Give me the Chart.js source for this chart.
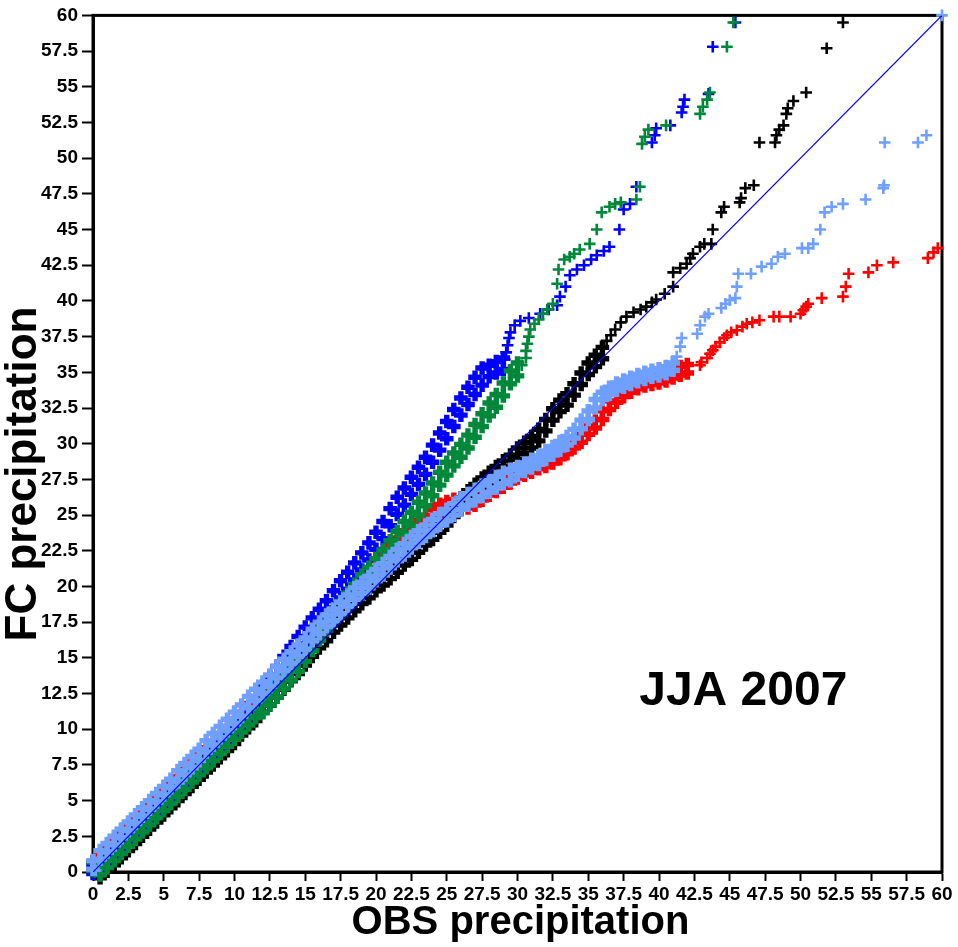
<!DOCTYPE html>
<html>
<head>
<meta charset="utf-8">
<script src="https://cdn.jsdelivr.net/npm/chart.js@4.4.1/dist/chart.umd.min.js"></script>
<style>
  html, body { margin: 0; padding: 0; background: #ffffff; }
  #chart_qq { display: block; }
</style>
</head>
<body>
<canvas id="chart_qq" width="958" height="947"></canvas>
<script>
// quantiles: [OBS, FC] for single crosses,
// [OBS, FC low, FC high] where crosses stack up into a thick band
const diagonal = [[0, 0], [60, 60]];

const lightBlue = [
  [0.2,0.1],
  [0,0.2,0.8],[0.5,0.9,1.5],[1,1.4,2.0],[1.5,1.9,2.5],[2,2.4,3.0],[2.5,2.9,3.5],[3,3.4,4.0],[3.5,3.9,4.5],[4,4.4,5.0],[4.5,4.9,5.5],
  [5,5.4,6.0],[5.5,5.9,6.5],[6,6.3,7.1],[6.5,6.8,7.6],[7,7.3,8.1],[7.5,7.8,8.6],[8,8.4,9.2],[8.5,8.9,9.7],[9,9.4,10.2],[9.5,9.9,10.7],
  [10,10.4,11.2],[10.5,10.9,11.7],[11,11.5,12.3],[11.5,12.0,12.8],[12,12.5,13.3],[12.5,13.0,13.8],[13,13.6,14.4],[13.5,14.1,14.9],[14,14.6,15.4],[14.5,15.1,15.9],
  [15,15.6,16.4],[15.5,16.2,17.0],[16,16.7,17.5],[16.5,17.2,18.0],[17,17.6,18.4],[17.5,18.1,18.9],[18,18.6,19.4],[18.5,19.1,19.9],[19,19.5,20.3],[19.5,19.9,20.7],
  [20,20.4,21.2],[20.5,20.8,21.6],[21,21.3,22.1],[21.5,21.8,22.6],[22,22.2,23.0],[22.5,22.7,23.5],[23,23.1,23.9],[23.5,23.5,24.3],[24,23.9,24.7],[24.5,24.3,25.1],
  [25,24.6,25.4],[25.5,25.0,25.8],[26,25.4,26.2],[26.5,25.7,26.5],[27,26.0,26.8],[27.5,26.3,27.1],[28,26.6,27.4],[28.5,26.9,27.7],[29,27.2,28.0],[29.5,27.4,28.2],
  [30,27.8,28.4],[30.5,28.05,28.65],[31,28.3,28.9],[31.5,28.55,29.15],[32,28.9,29.5],[32.5,29.2,29.8],[33,29.55,30.15],[33.5,29.9,30.5],[34,30.4,31.0],[34.5,31.05,31.65],
  [35,31.7,32.3],[35.5,32.5,33.1],[36,33.1,33.6],[36.5,33.45,33.95],[37,33.75,34.25],[37.5,33.95,34.45],[38,34.15,34.65],[38.5,34.35,34.85],[39,34.5,35.0],[39.5,34.65,35.15],
  [40,34.75,35.25],[40.5,34.9,35.4],[41,35.15,35.65],
  [41.25,36.1],[41.5,36.8],[41.6,37.4],[42.7,37.7],[42.9,38.3],[43.25,38.9],[43.5,39.1],[44.4,39.5],[44.7,39.8],[45.0,40.05],
  [45.4,40.2],[45.5,41.0],[45.6,41.9],[46.5,41.9],[47.25,42.4],[47.95,42.6],[48.4,43.1],[48.9,43.3],[50.1,43.7],[50.55,43.7],
  [50.9,44.0],[51.4,45.0],[51.7,46.2],[52.2,46.6],[53.0,46.8],[54.6,47.1],[55.85,47.9],[55.9,48.1],[55.95,51.1],[58.3,51.1],
  [58.9,51.6],[60.0,60.0]
];

const green = [
  [0,0.1,0.7],[0.5,-0.2,0.4],[1,0.3,0.9],[1.5,0.8,1.4],[2,1.3,1.9],[2.5,1.8,2.4],[3,2.3,2.9],[3.5,2.8,3.4],[4,3.3,3.9],[4.5,3.8,4.4],
  [5,4.3,4.9],[5.5,4.8,5.4],[6,5.3,5.9],[6.5,5.8,6.4],[7,6.3,6.9],[7.5,6.8,7.4],[8,7.3,7.9],[8.5,7.8,8.4],[9,8.3,8.9],[9.5,8.8,9.4],
  [10,9.3,9.9],[10.5,9.8,10.4],[11,10.3,10.9],[11.5,10.8,11.4],[12,11.15,12.05],[12.5,11.7,12.6],[13,12.25,13.15],[13.5,12.85,13.75],[14,13.45,14.35],[14.5,14.05,14.95],
  [15,14.75,15.65],[15.5,15.5,16.4],[16,16.25,17.15],[16.5,16.95,17.85],[17,17.55,18.45],[17.5,18.05,18.95],[18,18.65,19.55],[18.5,19.25,20.15],[19,19.9,20.8],[19.5,20.45,21.35],
  [20,21.05,21.95],[20.5,21.65,22.55],[21,22.3,23.2],[21.5,22.95,23.85],[22,23.65,24.55],[22.5,24.3,25.2],[23,25.0,25.9],[23.5,25.65,26.55],[24,26.35,27.25],[24.5,27.1,28.0],
  [25,27.8,28.7],[25.5,28.45,29.35],[26,29.05,29.95],[26.5,29.7,30.6],[27,30.45,31.35],[27.5,31.2,32.1],[28,31.95,32.85],[28.5,32.55,33.45],[29,33.35,34.25],[29.5,34.2,35.1],
  [30,34.75,35.65],
  [30.3,35.5],[30.6,36.0],[30.6,36.5],[30.7,37.0],[30.8,37.5],[30.9,38.0],[31.2,38.4],[31.5,38.7],[31.8,39.1],[32.1,39.4],
  [32.5,39.8],[32.8,41.2],[32.9,42.2],[33.3,42.9],[33.7,43.1],[34.0,43.3],[34.4,43.6],[35.1,44.0],[35.6,45.0],[35.95,46.2],
  [36.5,46.6],[36.9,46.8],[37.3,46.9],[38.4,47.1],[38.65,48.0],[38.8,51.0],[39.0,51.5],[39.25,52.0],[40.5,52.3],[42.9,53.1],
  [43.1,53.6],[43.4,54.1],[43.6,54.6],[44.8,57.8],[45.25,59.5]
];

const blue = [
  [0,-0.1,0.5],[0.5,0.2,0.8],[1,0.55,1.15],[1.5,1.0,1.6],[2,1.5,2.1],[2.5,2.0,2.6],[3,2.5,3.1],[3.5,3.0,3.6],[4,3.5,4.1],[4.5,4.0,4.6],
  [5,4.5,5.1],[5.5,5.0,5.6],[6,5.5,6.1],[6.5,6.0,6.6],[7,6.5,7.1],[7.5,7.0,7.6],[8,7.5,8.1],[8.5,8.0,8.6],[9,8.5,9.1],[9.5,9.1,9.7],
  [10,9.6,10.2],[10.5,10.1,10.7],[11,10.75,11.35],[11.5,11.4,12.0],[12,11.8,13.0],[12.5,12.5,13.7],[13,13.2,14.4],[13.5,13.9,15.1],[14,14.6,15.8],[14.5,15.3,16.5],
  [15,15.95,17.15],[15.5,16.6,17.8],[16,17.2,18.4],[16.5,17.8,19.0],[17,18.5,19.7],[17.5,19.2,20.4],[18,19.8,21.0],[18.5,20.45,21.65],[19,21.15,22.35],[19.5,21.85,23.05],
  [20,22.6,23.8],[20.5,23.35,24.55],[21,24.25,25.45],[21.5,25.05,26.25],[22,25.7,26.9],[22.5,26.45,27.65],[23,27.15,28.35],[23.5,27.85,29.05],[24,28.7,29.9],[24.5,29.55,30.75],
  [25,30.35,31.55],[25.5,31.2,32.4],[26,32.0,33.2],[26.5,32.75,33.95],[27,33.45,34.65],[27.5,34.1,35.3],[28,34.7,35.5],[28.5,34.95,35.75],[29,35.2,36.0],
  [29.1,35.9],[29.2,36.4],[29.3,36.9],[29.4,37.4],[29.5,37.8],[29.8,38.3],[30.2,38.6],[30.8,38.8],[31.6,39.1],[32.2,39.4],
  [32.8,39.7],[33.0,40.3],[33.4,41.0],[33.7,41.8],[34.2,42.2],[34.7,42.5],[35.2,42.9],[35.6,43.2],[36.1,43.5],[36.5,43.8],
  [37.2,45.0],[37.5,46.4],[37.95,46.8],[38.4,48.0],[39.5,51.1],[39.7,51.6],[39.8,52.1],[40.8,52.3],[41.6,53.2],[41.7,53.6],
  [41.8,54.1],[43.5,54.5],[43.8,57.8],[45.4,59.5]
];

const black = [
  [0.3,0.0],
  [0.5,-0.4,0.2],[1,0.05,0.65],[1.5,0.5,1.1],[2,1.0,1.6],[2.5,1.5,2.1],[3,2.0,2.6],[3.5,2.5,3.1],[4,3.0,3.6],[4.5,3.5,4.1],[5,4.0,4.6],
  [5.5,4.5,5.1],[6,5.0,5.6],[6.5,5.5,6.1],[7,6.0,6.6],[7.5,6.5,7.1],[8,7.0,7.6],[8.5,7.5,8.1],[9,8.0,8.6],[9.5,8.5,9.1],[10,9.0,9.6],
  [10.5,9.6,10.2],[11,10.1,10.7],[11.5,10.6,11.2],[12,11.2,11.8],[12.5,11.7,12.3],[13,12.25,12.85],[13.5,12.8,13.4],[14,13.4,14.0],[14.5,13.9,14.5],[15,14.5,15.1],
  [15.5,15.1,15.7],[16,15.7,16.3],[16.5,16.2,16.8],[17,16.8,17.4],[17.5,17.3,17.9],[18,17.8,18.4],[18.5,18.3,18.9],[19,18.8,19.4],[19.5,19.2,19.8],[20,19.7,20.3],
  [20.5,20.1,20.7],[21,20.55,21.15],[21.5,21.0,21.6],[22,21.5,22.1],[22.5,21.9,22.5],[23,22.4,23.0],[23.5,22.9,23.5],[24,23.3,24.1],[24.5,23.8,24.6],[25,24.3,25.1],
  [25.5,24.9,25.7],[26,25.4,26.2],[26.5,25.9,26.7],[27,26.35,27.15],[27.5,26.8,27.6],[28,27.2,28.0],[28.5,27.6,28.4],[29,28.0,28.8],[29.5,28.4,29.2],[30,28.9,29.7],
  [30.5,29.3,30.1],[31,29.7,30.5],[31.5,30.2,31.0],[32,30.9,31.7],[32.5,31.65,32.45],[33,32.25,33.05],[33.5,32.7,33.5],[34,33.4,34.2],[34.5,34.15,34.95],[35,34.85,35.65],
  [35.5,35.4,36.2],[36,35.95,36.75],
  [36.3,37.2],[36.6,37.6],[36.9,38.0],[37.3,38.5],[37.7,38.9],[38.2,39.2],[38.7,39.4],[39.1,39.6],[39.5,39.9],[39.8,40.1],
  [40.4,40.5],[41.0,41.0],[41.0,42.0],[41.5,42.3],[41.95,42.6],[42.2,43.0],[42.4,43.3],[42.9,43.8],[43.2,44.0],[43.7,44.0],
  [43.8,45.0],[44.4,46.2],[44.6,46.6],[45.7,46.9],[45.8,47.2],[46.1,47.9],[46.7,48.1],[47.1,51.1],[48.2,51.1],[48.3,51.6],
  [48.5,52.0],[48.8,52.3],[49.0,53.1],[49.1,53.5],[49.5,54.0],[50.4,54.6],[51.85,57.7],[53.0,59.5]
];

const red = [
  [0,0.1,0.7],[0.5,0.6,1.2],[1,1.1,1.7],[1.5,1.6,2.2],[2,2.1,2.7],[2.5,2.6,3.2],[3,3.1,3.7],[3.5,3.6,4.2],[4,4.1,4.7],[4.5,4.6,5.2],
  [5,5.1,5.7],[5.5,5.6,6.2],[6,6.1,6.7],[6.5,6.6,7.2],[7,7.1,7.7],[7.5,7.6,8.2],[8,8.1,8.7],[8.5,8.6,9.2],[9,9.1,9.7],[9.5,9.6,10.2],
  [10,10.1,10.7],[10.5,10.6,11.2],[11,11.2,11.8],[11.5,11.7,12.3],[12,12.2,12.8],[12.5,12.7,13.3],[13,13.2,13.8],[13.5,13.7,14.3],[14,14.3,14.9],[14.5,14.8,15.4],
  [15,15.35,15.95],[15.5,15.9,16.5],[16,16.5,17.1],[16.5,17.0,17.6],[17,17.6,18.2],[17.5,18.2,18.8],[18,18.8,19.4],[18.5,19.3,19.9],[19,19.85,20.65],[19.5,20.4,21.2],
  [20,21.0,21.8],[20.5,21.5,22.3],[21,22.1,22.9],[21.5,22.6,23.4],[22,23.1,23.9],[22.5,23.5,24.3],[23,23.85,24.65],[23.5,24.2,25.0],[24,24.6,25.4],[24.5,24.95,25.75],
  [25,25.15,25.95],[25.5,25.3,26.1],[26,25.4,26.2],[26.5,25.5,26.3],[27,25.7,26.5],[27.5,26.05,26.85],[28,26.4,27.0],[28.5,26.65,27.25],[29,26.95,27.55],[29.5,27.25,27.85],
  [30,27.6,28.2],[30.5,27.8,28.4],[31,28.0,28.6],[31.5,28.25,28.85],[32,28.4,29.0],[32.5,28.65,29.25],[33,28.95,29.55],[33.5,29.3,29.9],[34,29.7,30.3],[34.5,30.1,30.7],
  [35,30.65,31.25],[35.5,31.1,31.7],[36,31.7,32.3],[36.5,32.4,33.0],[37,32.9,33.5],[37.5,33.3,33.9],[38,33.6,34.2],[38.5,33.85,34.45],[39,34.05,34.65],[39.5,34.15,34.75],
  [40,34.25,34.85],[40.5,34.4,35.0],[41,34.6,35.2],[41.5,34.8,35.4],[42,34.95,35.55],
  [42.9,35.5],[43.0,35.7],[43.4,36.0],[43.6,36.3],[43.8,36.55],[44.0,36.8],[44.3,37.1],[44.6,37.4],[44.8,37.6],[45.1,37.8],
  [45.5,37.95],[45.9,38.2],[46.2,38.4],[46.6,38.5],[47.1,38.65],[48.1,38.9],[48.5,38.9],[49.3,38.9],[50.0,39.1],[50.2,39.35],
  [50.4,39.6],[50.55,39.8],[51.5,40.2],[53.0,40.3],[53.2,41.0],[53.4,41.9],[54.8,42.0],[55.4,42.5],[56.55,42.7],[59.0,43.0],
  [59.4,43.4],[59.7,43.7]
];

const axisMin = 0;
const axisMax = 60;
const tickStep = 2.5;
const xTitle = "OBS precipitation";
const yTitle = "FC precipitation";
const seasonLabel = "JJA 2007";
const seasonAt = [38.6, 11.7]; // OBS, FC of the label's left baseline

const fontFamily = "'Liberation Sans', Arial, Helvetica, sans-serif";

function toPoints(rows) {
  const pts = [];
  rows.forEach(r => {
    for (let i = 1; i < r.length; i++) pts.push({x: r[0], y: r[i], band: r.length > 2});
  });
  return pts;
}

function qqSet(rows, color) {
  return {
    data: toPoints(rows),
    showLine: false,
    pointStyle: "cross",
    // band rows stand for piles of overlapping crosses, so they get a heavier stroke
    pointRadius: c => (c.raw && c.raw.band ? 6.8 : 5.8),
    pointBorderWidth: c => (c.raw && c.raw.band ? 5.4 : 2.6),
    pointBorderColor: color,
    pointBackgroundColor: color,
    borderColor: color,
    clip: false
  };
}

const framePlugin = {
  id: "frame",
  beforeDatasetsDraw(chart) {
    const a = chart.chartArea;
    const ctx = chart.ctx;
    ctx.save();
    ctx.strokeStyle = "#000000";
    ctx.lineWidth = 3;
    ctx.strokeRect(a.left, a.top, a.right - a.left, a.bottom - a.top);
    ctx.restore();
  },
  afterDraw(chart) {
    const a = chart.chartArea;
    const ctx = chart.ctx;
    ctx.save();
    ctx.fillStyle = "#000000";
    ctx.font = "bold 40px " + fontFamily;
    ctx.textAlign = "center";
    ctx.textBaseline = "alphabetic";
    ctx.fillText(xTitle, (a.left + a.right) / 2 + 3, 934);

    ctx.save();
    ctx.font = "bold 44px " + fontFamily;
    ctx.translate(36, 474);
    ctx.rotate(-Math.PI / 2);
    ctx.fillText(yTitle, 0, 0);
    ctx.restore();

    ctx.font = "bold 48px " + fontFamily;
    ctx.textAlign = "left";
    ctx.fillText(seasonLabel,
      chart.scales.x.getPixelForValue(seasonAt[0]),
      chart.scales.y.getPixelForValue(seasonAt[1]));
    ctx.restore();
  }
};

function axisOptions(isY) {
  return {
    type: "linear",
    min: axisMin,
    max: axisMax,
    border: {display: true, color: "#000000", width: 3},
    grid: {
      display: true,
      drawOnChartArea: false,
      drawTicks: true,
      tickLength: isY ? 11 : 9,
      tickWidth: 2,
      tickColor: "#000000",
      color: "#000000"
    },
    ticks: {
      stepSize: tickStep,
      autoSkip: false,
      maxRotation: 0,
      minRotation: 0,
      padding: isY ? 4 : 2,
      color: "#000000",
      font: {family: fontFamily, size: 19, weight: "bold"}
    },
    afterFit: function(scale) {
      if (isY) { scale.width = 93; } else { scale.height = 75; }
    }
  };
}

const chart_qq = new Chart("chart_qq", {
  type: "scatter",
  data: {
    datasets: [
      {
        type: "line",
        data: toPoints(diagonal),
        borderColor: "#0000ff",
        borderWidth: 1.2,
        pointRadius: 0,
        fill: false
      },
      qqSet(lightBlue, "#6fa0ff"),
      qqSet(green, "#00883a"),
      qqSet(blue, "#0000ff"),
      qqSet(black, "#000000"),
      qqSet(red, "#ff0000")
    ]
  },
  options: {
    responsive: false,
    animation: false,
    devicePixelRatio: 1,
    events: [],
    layout: {padding: {left: 0, right: 16, top: 4, bottom: 0}},
    plugins: {
      legend: {display: false},
      tooltip: {enabled: false}
    },
    scales: {
      x: axisOptions(false),
      y: axisOptions(true)
    }
  },
  plugins: [framePlugin]
});
</script>
</body>
</html>
